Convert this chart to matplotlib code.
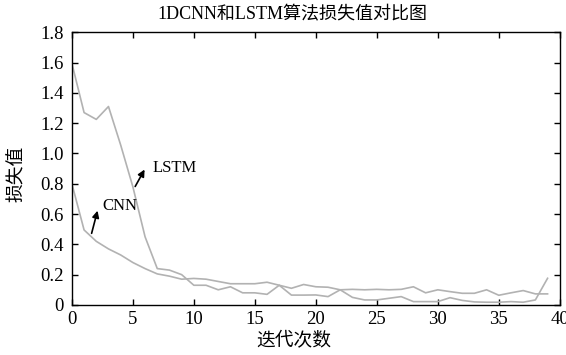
import matplotlib
matplotlib.use("Agg")
import matplotlib.pyplot as plt
from matplotlib.ticker import FuncFormatter

plt.rcParams['font.family'] = ['Liberation Serif', 'Noto Sans CJK SC']

epochs = list(range(40))
cnn_loss = [0.80, 0.495, 0.42, 0.37, 0.33, 0.28, 0.24, 0.205, 0.19, 0.17,
            0.175, 0.17, 0.155, 0.14, 0.14, 0.14, 0.15, 0.13, 0.11, 0.135,
            0.12, 0.117, 0.10, 0.103, 0.10, 0.103, 0.10, 0.103, 0.12, 0.08,
            0.10, 0.088, 0.077, 0.077, 0.10, 0.064, 0.08, 0.095, 0.073, 0.073]
lstm_loss = [1.595, 1.27, 1.225, 1.31, 1.056, 0.78, 0.45, 0.24, 0.23, 0.20,
             0.13, 0.13, 0.10, 0.12, 0.08, 0.08, 0.07, 0.13, 0.065, 0.065,
             0.066, 0.055, 0.10, 0.05, 0.033, 0.033, 0.044, 0.055, 0.022, 0.022,
             0.022, 0.048, 0.03, 0.02, 0.018, 0.018, 0.022, 0.018, 0.033, 0.176]

title = "1DCNN和LSTM算法损失值对比图"
x_label = "迭代次数"
y_label = "损失值"

fig = plt.figure(figsize=(5.66, 3.55), dpi=100)
ax = fig.add_axes([0.127, 0.141, 0.862, 0.768])

line_color = "#b2b2b2"
ax.plot(epochs, cnn_loss, color=line_color, linewidth=1.2)
ax.plot(epochs, lstm_loss, color=line_color, linewidth=1.2)

ax.set_xlim(0, 40)
ax.set_ylim(0, 1.8)
ax.set_xticks(range(0, 41, 5))
ax.set_yticks([i * 0.2 for i in range(10)])
ax.yaxis.set_major_formatter(FuncFormatter(lambda v, p: "0" if abs(v) < 1e-9 else f"{v:.1f}"))

ax.tick_params(direction="in", top=True, right=True, length=4, width=1,
               labelsize=13.5, colors="black")
ax.tick_params(axis="x", pad=4)
ax.tick_params(axis="y", pad=6)
for s in ax.spines.values():
    s.set_linewidth(1.0)

ax.set_title(title, fontsize=13, x=0.452, pad=9)
ax.set_xlabel(x_label, fontsize=13.5)
ax.xaxis.set_label_coords(0.455, -0.1)
ax.set_ylabel(y_label, fontsize=13.5)
ax.yaxis.set_label_coords(-0.094, 0.48)

arrow = dict(arrowstyle="-|>", color="black", lw=1.2, mutation_scale=10)
ax.annotate("", xy=(6.07, 0.91), xytext=(5.08, 0.766), arrowprops=arrow)
ax.text(6.6, 0.906, "LSTM", fontsize=12, va="center", ha="left")
ax.annotate("", xy=(2.16, 0.64), xytext=(1.56, 0.455), arrowprops=arrow)
ax.text(2.46, 0.655, "CNN", fontsize=12, va="center", ha="left")

fig.savefig("out.png", dpi=100)
